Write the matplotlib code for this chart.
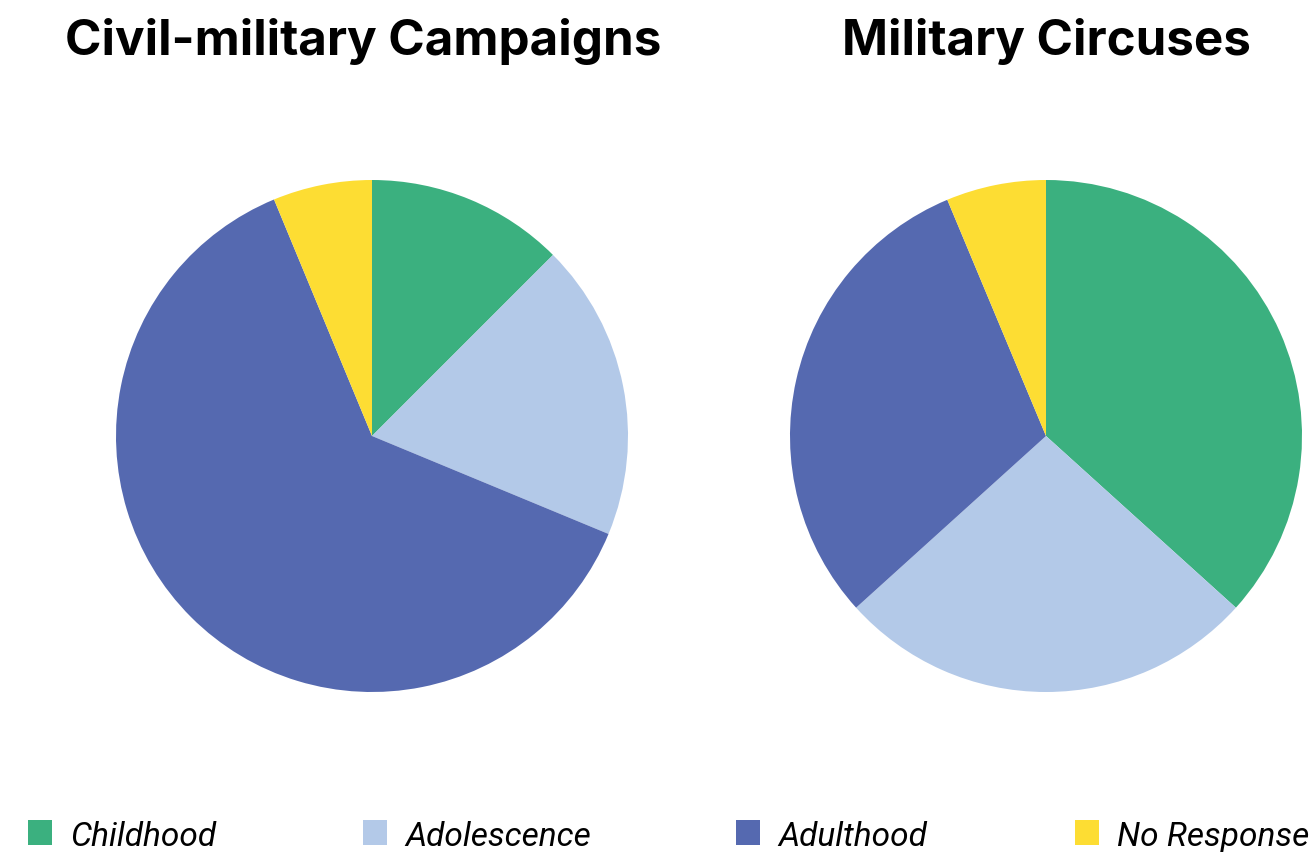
import matplotlib.pyplot as plt
from matplotlib.patches import Rectangle

categories = ["Childhood", "Adolescence", "Adulthood", "No Response"]
colors = ["#3bb07f", "#b3c9e8", "#5569b0", "#fddd33"]

titles = ["Civil-military Campaigns", "Military Circuses"]
campaigns = [12.5, 18.75, 62.5, 6.25]
circuses = [36.7, 26.6, 30.4, 6.3]

W, H = 1312, 853
fig = plt.figure(figsize=(W / 100, H / 100), dpi=100)

# pie centres and radius in pixels
centres = [(372, 437), (1046, 437)]
title_x = [363, 1046]
radius = 256

for (cx, cy), tx, title, values in zip(centres, title_x, titles,
                                       [campaigns, circuses]):
    ax = fig.add_axes([(cx - radius) / W, (H - cy - radius) / H,
                       2 * radius / W, 2 * radius / H])
    ax.pie(values, colors=colors, startangle=90, counterclock=False,
           wedgeprops={"linewidth": 0})
    ax.set_xlim(-1, 1)
    ax.set_ylim(-1, 1)
    ax.set_aspect("equal")
    fig.text(tx / W, 1 - 55 / H, title, ha="center", va="baseline",
             fontsize=35.5, fontweight="bold", family="Inter")

# legend row along the bottom: swatch then italic label
key_x = [28, 363, 736, 1075]
base_y = 1 - 846 / H
for x, label, color in zip(key_x, categories, colors):
    fig.add_artist(Rectangle((x / W, base_y), 24 / W, 25 / H,
                             facecolor=color, edgecolor="none",
                             transform=fig.transFigure))
    fig.text((x + 42) / W, base_y, label, ha="left", va="baseline",
             fontsize=24, style="italic", family="Roboto")

fig.savefig("out.png", dpi=100)
